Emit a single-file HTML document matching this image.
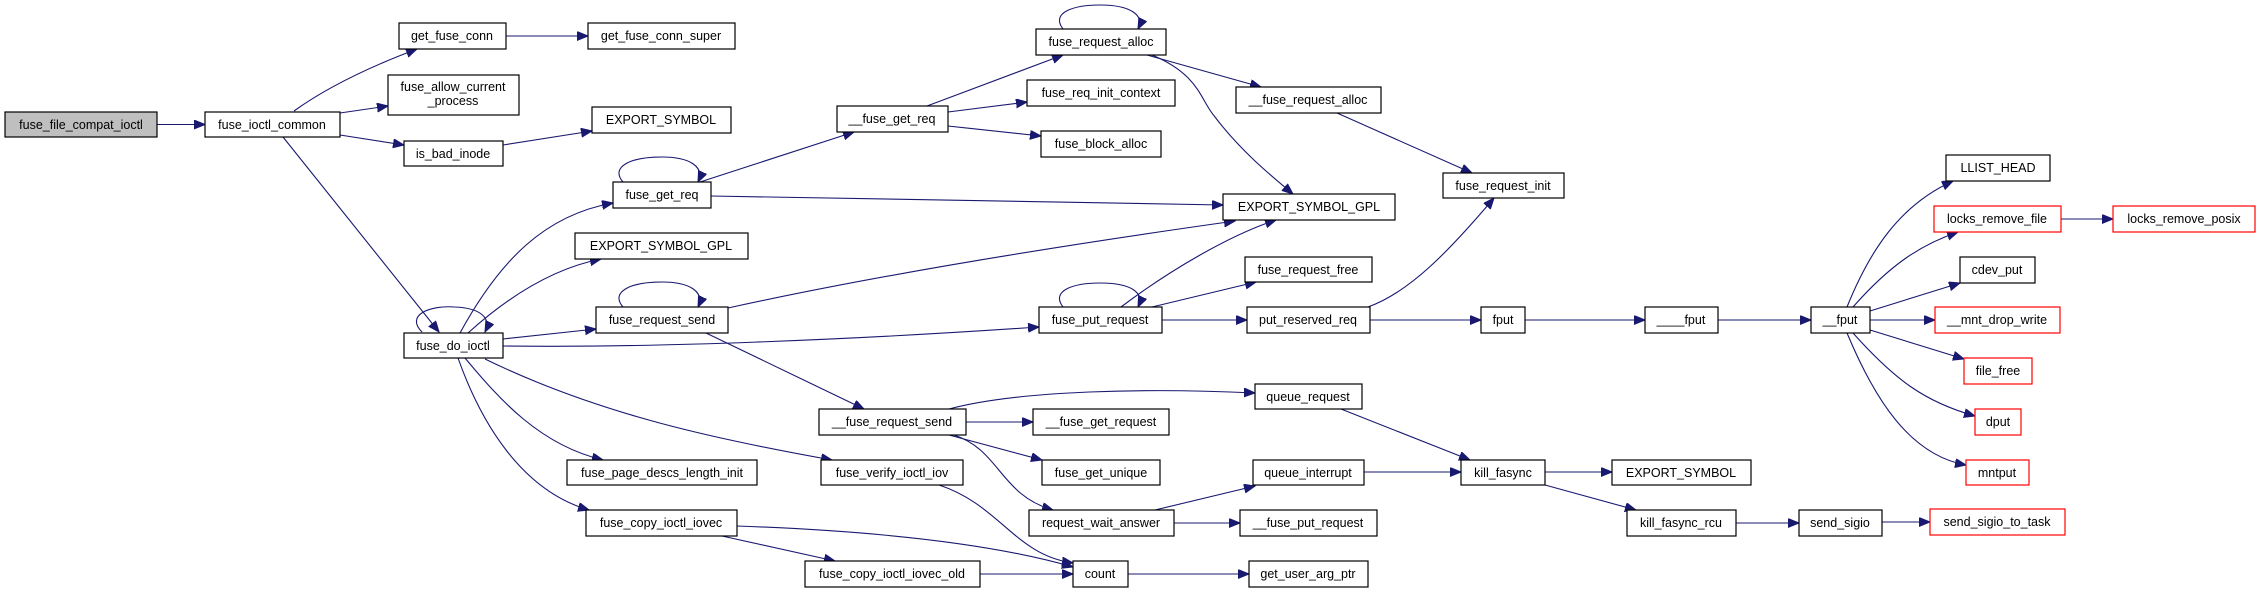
<!DOCTYPE html>
<html><head><meta charset="utf-8"><style>
html,body{margin:0;padding:0;background:#fff;}
svg{display:block;}
text{font-family:"Liberation Sans",Arial,sans-serif;font-size:12.5px;fill:#000;text-anchor:middle;}
.b{fill:#fff;stroke:#000;stroke-width:1.2;}
.r{fill:#fff;stroke:#ff0000;stroke-width:1.2;}
.g{fill:#bfbfbf;stroke:#000;stroke-width:1.2;}
.e{fill:none;stroke:#191970;stroke-width:1.1;marker-end:url(#a);}
</style></head><body>
<svg width="2260" height="592" viewBox="0 0 2260 592" xmlns="http://www.w3.org/2000/svg">
<defs><marker id="a" markerUnits="userSpaceOnUse" markerWidth="12" markerHeight="10" refX="11" refY="4.5" orient="auto"><path d="M0,0 L11,4.5 L0,9 Z" fill="#191970" stroke="#191970"/></marker></defs>

<!-- edges -->
<path class="e" d="M157,124.5 L205,124.5"/>
<path class="e" d="M294,111 Q340,78 417,49"/>
<path class="e" d="M506,36 L588,36"/>
<path class="e" d="M340,113 L388,106"/>
<path class="e" d="M340,135 L404,145"/>
<path class="e" d="M503,145 L592,131"/>
<path class="e" d="M283,137 L439,332"/>
<path class="e" d="M422,332 C405,315 430,305 455,307 C480,308 492,318 485,332"/>
<path class="e" d="M460,333 C500,260 545,215 613,203"/>
<path class="e" d="M468,333 C510,295 555,268 601,259"/>
<path class="e" d="M503,339 L596,329"/>
<path class="e" d="M503,346 C650,348 850,340 1039,327"/>
<path class="e" d="M485,359 C600,415 720,440 832,460"/>
<path class="e" d="M465,358 C500,400 540,445 603,460"/>
<path class="e" d="M458,358 C480,420 520,490 589,510"/>
<path class="e" d="M623,307 C610,292 630,282 662,282 C690,282 705,292 698,307"/>
<path class="e" d="M623,182 C610,167 630,157 662,157 C690,157 705,167 698,182"/>
<path class="e" d="M700,182 L854,132"/>
<path class="e" d="M711,196 C850,198 1050,202 1223,205"/>
<path class="e" d="M728,308 C900,270 1100,240 1235,221"/>
<path class="e" d="M706,333 L864,409"/>
<path class="e" d="M737,526 C850,530 980,540 1073,567"/>
<path class="e" d="M722,536 L835,561"/>
<path class="e" d="M939,485 C1000,505 1015,555 1073,563"/>
<path class="e" d="M980,574 L1073,574"/>
<path class="e" d="M1128,574 L1249,574"/>
<path class="e" d="M927,106 L1063,55"/>
<path class="e" d="M948,112 L1027,102"/>
<path class="e" d="M948,126 L1041,136"/>
<path class="e" d="M1063,29 C1050,12 1075,5 1100,5 C1130,5 1145,15 1138,29"/>
<path class="e" d="M1147,55 L1261,87"/>
<path class="e" d="M1152,55 C1200,75 1200,100 1215,117 C1240,150 1270,175 1293,194"/>
<path class="e" d="M1337,113 L1472,173"/>
<path class="e" d="M1063,307 C1050,290 1075,283 1100,283 C1130,283 1145,292 1138,307"/>
<path class="e" d="M1121,307 C1170,270 1230,235 1276,220"/>
<path class="e" d="M1152,307 L1256,282"/>
<path class="e" d="M1162,320 L1247,320"/>
<path class="e" d="M1368,307 C1410,292 1450,250 1494,198"/>
<path class="e" d="M1370,320 L1481,320"/>
<path class="e" d="M1525,320 L1645,320"/>
<path class="e" d="M1718,320 L1811,320"/>
<path class="e" d="M1847,307 C1870,250 1900,205 1953,181"/>
<path class="e" d="M1853,307 C1890,265 1920,245 1958,232"/>
<path class="e" d="M1870,311 L1960,283"/>
<path class="e" d="M1870,320 L1935,320"/>
<path class="e" d="M1870,330 L1964,359"/>
<path class="e" d="M1853,333 C1895,380 1925,402 1975,416"/>
<path class="e" d="M1847,333 C1875,400 1910,455 1966,465"/>
<path class="e" d="M2061,219 L2113,219"/>
<path class="e" d="M949,409 C1020,390 1150,388 1255,393"/>
<path class="e" d="M966,422 L1033,422"/>
<path class="e" d="M949,435 L1042,460"/>
<path class="e" d="M954,435 C1000,450 1000,495 1053,510"/>
<path class="e" d="M1155,510 L1255,486"/>
<path class="e" d="M1174,523 L1240,523"/>
<path class="e" d="M1341,409 L1470,460"/>
<path class="e" d="M1364,472 L1461,472"/>
<path class="e" d="M1545,472 L1612,472"/>
<path class="e" d="M1545,485 L1636,510"/>
<path class="e" d="M1736,523 L1799,523"/>
<path class="e" d="M1882,522 L1930,522"/>

<!-- nodes -->
<rect class="g" x="5" y="112" width="152" height="25"/><text x="81" y="129">fuse_file_compat_ioctl</text>
<rect class="b" x="205" y="112" width="135" height="25"/><text x="272" y="129">fuse_ioctl_common</text>
<rect class="b" x="399" y="23" width="107" height="26"/><text x="452" y="40">get_fuse_conn</text>
<rect class="b" x="588" y="23" width="147" height="26"/><text x="661" y="40">get_fuse_conn_super</text>
<rect class="b" x="388" y="75" width="131" height="40"/><text x="453" y="91">fuse_allow_current</text><text x="453" y="105">_process</text>
<rect class="b" x="592" y="107" width="139" height="26"/><text x="661" y="124">EXPORT_SYMBOL</text>
<rect class="b" x="404" y="141" width="99" height="25"/><text x="453" y="158">is_bad_inode</text>
<rect class="b" x="613" y="182" width="98" height="26"/><text x="662" y="199">fuse_get_req</text>
<rect class="b" x="575" y="233" width="173" height="26"/><text x="661" y="250">EXPORT_SYMBOL_GPL</text>
<rect class="b" x="596" y="307" width="132" height="26"/><text x="662" y="324">fuse_request_send</text>
<rect class="b" x="404" y="333" width="99" height="25"/><text x="453" y="350">fuse_do_ioctl</text>
<rect class="b" x="567" y="460" width="190" height="25"/><text x="662" y="477">fuse_page_descs_length_init</text>
<rect class="b" x="586" y="510" width="151" height="26"/><text x="661" y="527">fuse_copy_ioctl_iovec</text>

<rect class="b" x="1036" y="29" width="130" height="26"/><text x="1101" y="46">fuse_request_alloc</text>
<rect class="b" x="1027" y="80" width="148" height="26"/><text x="1101" y="97">fuse_req_init_context</text>
<rect class="b" x="837" y="106" width="111" height="26"/><text x="892" y="123">__fuse_get_req</text>
<rect class="b" x="1041" y="131" width="120" height="26"/><text x="1101" y="148">fuse_block_alloc</text>
<rect class="b" x="1236" y="87" width="145" height="26"/><text x="1308" y="104">__fuse_request_alloc</text>
<rect class="b" x="1443" y="173" width="121" height="25"/><text x="1503" y="190">fuse_request_init</text>
<rect class="b" x="1223" y="194" width="172" height="26"/><text x="1309" y="211">EXPORT_SYMBOL_GPL</text>
<rect class="b" x="1245" y="257" width="127" height="25"/><text x="1308" y="274">fuse_request_free</text>
<rect class="b" x="1039" y="307" width="123" height="26"/><text x="1100" y="324">fuse_put_request</text>
<rect class="b" x="1247" y="307" width="123" height="26"/><text x="1308" y="324">put_reserved_req</text>
<rect class="b" x="1481" y="307" width="44" height="26"/><text x="1503" y="324">fput</text>
<rect class="b" x="1255" y="384" width="107" height="25"/><text x="1308" y="401">queue_request</text>
<rect class="b" x="819" y="409" width="147" height="26"/><text x="892" y="426">__fuse_request_send</text>
<rect class="b" x="1033" y="409" width="136" height="26"/><text x="1101" y="426">__fuse_get_request</text>
<rect class="b" x="821" y="460" width="142" height="25"/><text x="892" y="477">fuse_verify_ioctl_iov</text>
<rect class="b" x="1042" y="460" width="118" height="25"/><text x="1101" y="477">fuse_get_unique</text>
<rect class="b" x="1253" y="460" width="111" height="25"/><text x="1308" y="477">queue_interrupt</text>
<rect class="b" x="1461" y="460" width="84" height="25"/><text x="1503" y="477">kill_fasync</text>
<rect class="b" x="1029" y="510" width="145" height="26"/><text x="1101" y="527">request_wait_answer</text>
<rect class="b" x="1240" y="510" width="137" height="26"/><text x="1308" y="527">__fuse_put_request</text>
<rect class="b" x="805" y="561" width="175" height="26"/><text x="892" y="578">fuse_copy_ioctl_iovec_old</text>
<rect class="b" x="1073" y="561" width="55" height="26"/><text x="1100" y="578">count</text>
<rect class="b" x="1249" y="561" width="119" height="26"/><text x="1308" y="578">get_user_arg_ptr</text>

<rect class="b" x="1645" y="307" width="73" height="26"/><text x="1681" y="324">____fput</text>
<rect class="b" x="1811" y="307" width="59" height="26"/><text x="1840" y="324">__fput</text>
<rect class="b" x="1612" y="460" width="139" height="25"/><text x="1681" y="477">EXPORT_SYMBOL</text>
<rect class="b" x="1627" y="510" width="109" height="26"/><text x="1681" y="527">kill_fasync_rcu</text>
<rect class="b" x="1799" y="510" width="83" height="26"/><text x="1840" y="527">send_sigio</text>
<rect class="b" x="1946" y="155" width="104" height="26"/><text x="1998" y="172">LLIST_HEAD</text>
<rect class="r" x="1934" y="206" width="127" height="26"/><text x="1997" y="223">locks_remove_file</text>
<rect class="r" x="2113" y="206" width="142" height="26"/><text x="2184" y="223">locks_remove_posix</text>
<rect class="b" x="1960" y="257" width="75" height="26"/><text x="1997" y="274">cdev_put</text>
<rect class="r" x="1935" y="307" width="125" height="26"/><text x="1997" y="324">__mnt_drop_write</text>
<rect class="r" x="1964" y="358" width="68" height="26"/><text x="1998" y="375">file_free</text>
<rect class="r" x="1975" y="409" width="46" height="26"/><text x="1998" y="426">dput</text>
<rect class="r" x="1966" y="460" width="63" height="25"/><text x="1997" y="477">mntput</text>
<rect class="r" x="1930" y="509" width="135" height="26"/><text x="1997" y="526">send_sigio_to_task</text>
</svg>
</body></html>
